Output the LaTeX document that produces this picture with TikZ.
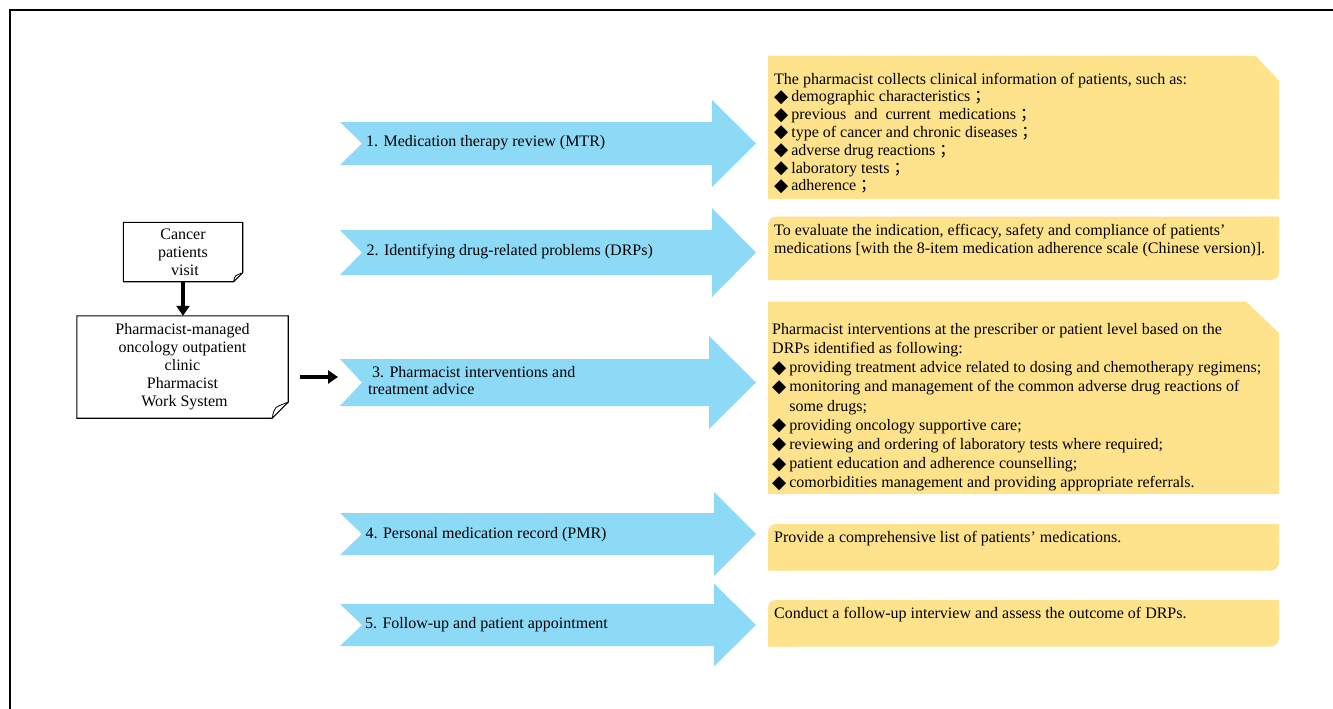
\documentclass[tikz,border=0pt]{standalone}
\usepackage{fontspec}
\setmainfont{Liberation Serif}
\newfontfamily\symfont{DejaVu Sans}
\newfontfamily\cjkfont{Noto Sans CJK SC}
\usepackage{graphicx}
\usepackage{xcolor}
\usepackage{tikz}
\usetikzlibrary{arrows.meta,calc}
\definecolor{stepblue}{HTML}{8DDAF7}
\definecolor{infoyellow}{HTML}{FEE28C}

\newcommand{\dmd}{\raisebox{-0.5pt}{\scalebox{1.15}{\symfont ◆}}\hspace{3pt}}
\newcommand{\semi}{\ {\cjkfont ；}}
% y centre, head base, shaft half height, head half height
\newcommand{\steparrow}[4]{%
  \fill[stepblue] (340,{#1-#3}) -- (#2,{#1-#3}) -- (#2,{#1-#4}) -- (756,#1)
    -- (#2,{#1+#4}) -- (#2,{#1+#3}) -- (340,{#1+#3}) -- (362,#1) -- cycle;}

\tikzset{
  boxtext/.style={font=\fontsize{16}{18}\selectfont, inner sep=0pt, align=center},
  steptext/.style={font=\fontsize{16}{17.3}\selectfont, inner sep=0pt, anchor=base west, align=left},
  infotext/.style={font=\fontsize{16}{17.8}\selectfont, inner sep=0pt, anchor=north west, align=left},
  flowarrow/.style={line width=4.5pt, -{Triangle[length=10pt,width=13pt]}},
  notebox/.style={line width=1.1pt, line join=miter}
}

\begin{document}
\begin{tikzpicture}[x=1pt,y=-1pt]
\useasboundingbox (0,0) rectangle (1333,709);
\draw[line width=1.5pt] (10,709) -- (10,10) -- (1333,10);

% left column
\node[boxtext, minimum width=119pt, minimum height=59pt] (visit) at (183,252) {Cancer\\patients\\\ visit};
\node[boxtext, minimum width=211pt, minimum height=102pt] (clinic) at (182.5,367) {Pharmacist-managed\\oncology outpatient\\clinic\\Pharmacist\\\ Work System};
\draw[notebox] (visit.north west) -- (visit.north east) -- ($(visit.south east)+(0,-9)$)
  -- ($(visit.south east)+(-9,0)$) -- (visit.south west) -- cycle;
\draw[line width=0.8pt] ($(visit.south east)+(-9,0)$) .. controls ($(visit.south east)+(-8,-6)$) .. ($(visit.south east)+(0,-9)$);
\draw[notebox] (clinic.north west) -- (clinic.north east) -- ($(clinic.south east)+(0,-16)$)
  -- ($(clinic.south east)+(-16,0)$) -- (clinic.south west) -- cycle;
\draw[line width=0.8pt] ($(clinic.south east)+(-16,0)$) .. controls ($(clinic.south east)+(-14,-11)$) .. ($(clinic.south east)+(0,-16)$);
\draw[flowarrow] (visit.south) -- (visit.south |- clinic.north);
\coordinate (tail3) at (338,377);
\draw[flowarrow] ($(clinic.east |- tail3)+(12,0)$) -- (tail3);

% steps
\steparrow{143.5}{712}{21.5}{43.5}
\steparrow{252.5}{712}{22.5}{44.5}
\steparrow{382.5}{709}{23.5}{46.5}
\steparrow{534}{714}{21}{42}
\steparrow{625}{714}{21}{41.5}
\node[steptext] (step1) at (366,146.5) {1. Medication therapy review (MTR)};
\node[steptext] (step2) at (366.5,255.7) {2. Identifying drug-related problems (DRPs)};
\node[steptext, anchor=north west] (step3) at (368,366) {\ 3. Pharmacist interventions and\\treatment advice};
\node[steptext] (step4) at (365.5,538.3) {4. Personal medication record (PMR)};
\node[steptext] (step5) at (365,628.3) {5. Follow-up and patient appointment};

% details
\fill[infoyellow] (768,56) -- (1256,56) -- (1279,81) -- (1279,199) -- (768,199) -- cycle;
\fill[infoyellow, rounded corners=8pt] (768,216.5) rectangle (1279,280);
\fill[infoyellow] (1259,216.5) rectangle (1279,240) (768,258) rectangle (790,280);
\fill[infoyellow] (768,301.5) -- (1246,301.5) -- (1279,333) -- (1279,494) -- (768,494) -- cycle;
\fill[infoyellow, rounded corners=8pt] (768,524) rectangle (1279,570.5);
\fill[infoyellow] (1259,524) rectangle (1279,545) (768,550) rectangle (790,570.5);
\fill[infoyellow, rounded corners=8pt] (768,600) rectangle (1279,646.5);
\fill[infoyellow] (1259,600) rectangle (1279,621) (768,626) rectangle (790,646.5);

\node[infotext] (info1) at (774,72.6) {The pharmacist collects clinical information of patients, such as:\\
  \dmd demographic characteristics\semi\\
  \dmd previous\ \ and\ \ current\ \ medications\semi\\
  \dmd type of cancer and chronic diseases\semi\\
  \dmd adverse drug reactions\semi\\
  \dmd laboratory tests\semi\\
  \dmd adherence\semi};
\node[infotext, font=\fontsize{16}{18.3}\selectfont] (info2) at (774,224) {To evaluate the indication, efficacy, safety and compliance of patients’\\
  medications [with the 8-item medication adherence scale (Chinese version)].};
\node[infotext, font=\fontsize{16}{19.2}\selectfont] (info3) at (772,322.9) {Pharmacist interventions at the prescriber or patient level based on the\\
  DRPs identified as following:\\
  \dmd providing treatment advice related to dosing and chemotherapy regimens;\\
  \dmd monitoring and management of the common adverse drug reactions of\\
  \phantom{\dmd}some drugs;\\
  \dmd providing oncology supportive care;\\
  \dmd reviewing and ordering of laboratory tests where required;\\
  \dmd patient education and adherence counselling;\\
  \dmd comorbidities management and providing appropriate referrals.};
\node[infotext, anchor=base west] (info4) at (774,542.8) {Provide a comprehensive list of patients’ medications.};
\node[infotext, anchor=base west] (info5) at (774,618.8) {Conduct a follow-up interview and assess the outcome of DRPs.};
\end{tikzpicture}
\end{document}
